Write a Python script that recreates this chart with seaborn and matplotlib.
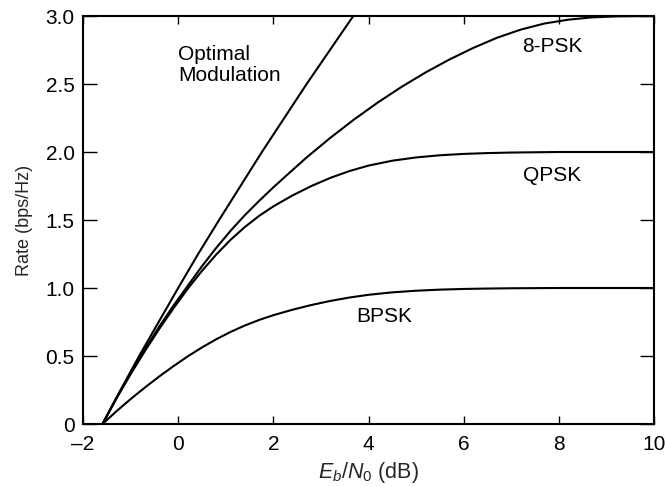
import matplotlib
matplotlib.use("Agg")
import matplotlib.pyplot as plt
import seaborn as sns
import pandas as pd

# Values
opt_x = [-1.59, -1.21, -0.82, -0.41, 0.0, 0.42, 0.86, 1.31, 1.76, 2.23, 2.70, 3.19, 3.68]
opt_y = [0.0, 0.25, 0.5, 0.75, 1.0, 1.25, 1.5, 1.75, 2.0, 2.25, 2.5, 2.75, 3.0]

psk8_x = [-1.59, -1.3, -1.0, -0.7, -0.4, -0.1, 0.2, 0.5, 0.8, 1.1, 1.4, 1.7, 2.0, 2.3,
          2.7, 3.2, 3.7, 4.2, 4.7, 5.2, 5.7, 6.2, 6.7, 7.2, 7.7, 8.2, 8.7, 9.2, 10.0]
psk8_y = [0.0, 0.19, 0.375, 0.55, 0.715, 0.87, 1.015, 1.16, 1.295, 1.42, 1.535, 1.64, 1.74, 1.835,
          1.96, 2.105, 2.24, 2.365, 2.48, 2.585, 2.68, 2.765, 2.84, 2.90, 2.945, 2.973, 2.99, 2.997, 3.0]

qpsk_x = [-1.59, -1.3, -1.0, -0.7, -0.4, -0.1, 0.2, 0.5, 0.8, 1.1, 1.4, 1.7, 2.0, 2.4,
          2.8, 3.2, 3.6, 4.0, 4.5, 5.0, 5.5, 6.0, 6.5, 7.0, 8.0, 9.0, 10.0]
qpsk_y = [0.0, 0.186, 0.366, 0.536, 0.698, 0.85, 0.994, 1.126, 1.246, 1.354, 1.448, 1.53, 1.6, 1.68,
          1.75, 1.81, 1.86, 1.90, 1.936, 1.96, 1.976, 1.986, 1.992, 1.996, 2.0, 2.0, 2.0]

bpsk_x = [-1.59, -1.3, -1.0, -0.7, -0.4, -0.1, 0.2, 0.5, 0.8, 1.1, 1.4, 1.7, 2.0, 2.4,
          2.8, 3.2, 3.6, 4.0, 4.5, 5.0, 5.5, 6.0, 6.5, 7.0, 8.0, 9.0, 10.0]
bpsk_y = [0.0, 0.093, 0.183, 0.268, 0.349, 0.425, 0.497, 0.563, 0.623, 0.677, 0.724, 0.765, 0.8, 0.84,
          0.875, 0.905, 0.93, 0.95, 0.968, 0.98, 0.988, 0.993, 0.996, 0.998, 1.0, 1.0, 1.0]

x_ticks = [-2, 0, 2, 4, 6, 8, 10]
x_tick_labels = ["\u20132", "0", "2", "4", "6", "8", "10"]
y_ticks = [0, 0.5, 1.0, 1.5, 2.0, 2.5, 3.0]
y_tick_labels = ["0", "0.5", "1.0", "1.5", "2.0", "2.5", "3.0"]

labels = ["Optimal\nModulation", "8-PSK", "QPSK", "BPSK"]
label_x = [0.0, 7.86, 7.86, 4.34]
label_y = [2.64, 2.775, 1.826, 0.79]

frames = []
for name, xs, ys in [("opt", opt_x, opt_y), ("8psk", psk8_x, psk8_y),
                     ("qpsk", qpsk_x, qpsk_y), ("bpsk", bpsk_x, bpsk_y)]:
    frames.append(pd.DataFrame({"x": xs, "y": ys, "curve": name}))
df = pd.concat(frames, ignore_index=True)

sns.set_theme(style="ticks")
plt.rcParams["font.family"] = ["Liberation Sans", "DejaVu Sans"]
plt.rcParams["mathtext.fontset"] = "custom"
plt.rcParams["mathtext.rm"] = "Liberation Sans"
plt.rcParams["mathtext.it"] = "Liberation Sans:italic"

fig = plt.figure(figsize=(6.65, 4.87), dpi=100)
ax = fig.add_axes([83 / 665, 1 - 424 / 487, (654 - 83) / 665, (424 - 16) / 487])

sns.lineplot(data=df, x="x", y="y", hue="curve", units="curve", estimator=None,
             sort=False, palette=["black"] * 4, linewidth=1.5, legend=False, ax=ax)

ax.set_xlim(-2, 10)
ax.set_ylim(0, 3)
ax.set_xticks(x_ticks)
ax.set_xticklabels(x_tick_labels)
ax.set_yticks(y_ticks)
ax.set_yticklabels(y_tick_labels)
ax.tick_params(axis="x", direction="in", length=6, width=1, top=True, bottom=True,
               labelsize=15, pad=8, colors="black")
ax.tick_params(axis="y", direction="in", length=10, width=1, left=True, right=True,
               labelsize=15, pad=6, colors="black")
for s in ax.spines.values():
    s.set_linewidth(1.5)
    s.set_color("black")
    s.set_visible(True)

ax.set_xlabel(r"$E_b/N_0$ (dB)", fontsize=15.5, labelpad=4)
ax.set_ylabel("Rate (bps/Hz)", fontsize=13, labelpad=9)

for t, xx, yy in zip(labels, label_x, label_y):
    ha = "left" if t.startswith("Optimal") else "center"
    ax.text(xx, yy, t, ha=ha, va="center", fontsize=15, color="black", linespacing=1.15)

fig.savefig("out.png", dpi=100)
